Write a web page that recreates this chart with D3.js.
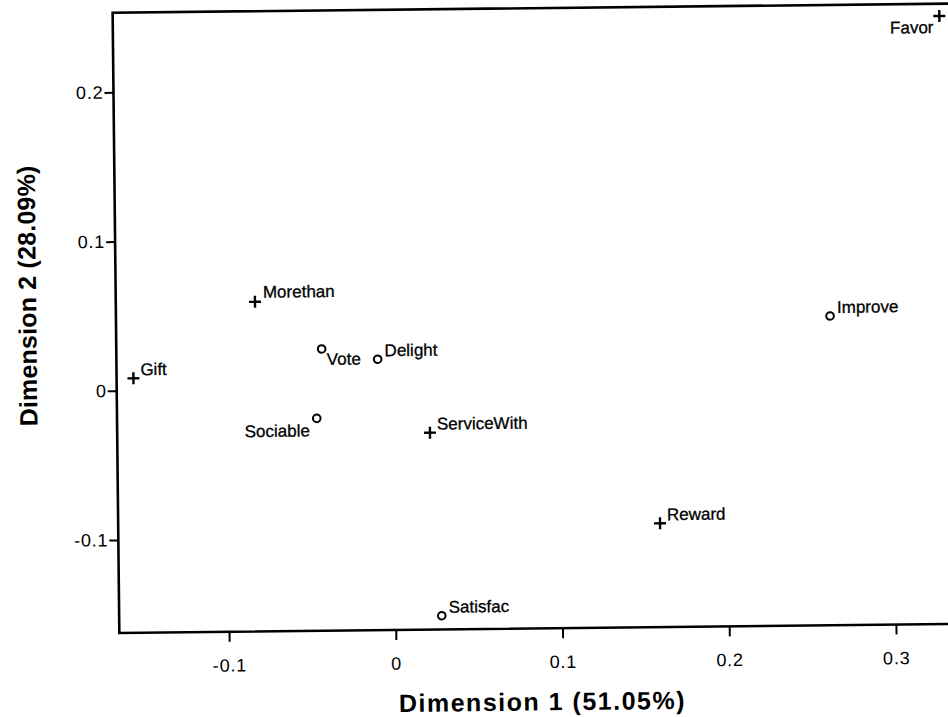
<!DOCTYPE html>
<html>
<head>
<meta charset="utf-8">
<script src="https://cdn.jsdelivr.net/npm/d3@7"></script>
<style>
  html, body { margin: 0; padding: 0; background: #fff; }
  svg { display: block; }
  text { font-family: "Liberation Sans", Arial, Helvetica, sans-serif; fill: #000; }
</style>
</head>
<body>
<svg id="chart" width="948" height="717"></svg>
<script>
(function () {
// ---- data ----
const names = ["Favor", "Improve", "Morethan", "Vote", "Delight", "Gift", "Sociable", "ServiceWith", "Reward", "Satisfac"];
const dim1  = [0.330, 0.2625, -0.0823, -0.0426, -0.0091, -0.1557, -0.0460, 0.0218, 0.1592, 0.0277];
const dim2  = [0.2452, 0.0449, 0.0586, 0.0265, 0.0192, 0.0082, -0.0200, -0.0304, -0.0928, -0.1532];
const pointType = ["plus", "circle", "plus", "circle", "circle", "plus", "circle", "plus", "plus", "circle"];
const xTicks = [-0.1, 0, 0.1, 0.2, 0.3];
const yTicks = [-0.1, 0, 0.1, 0.2];
const xTickLabels = ["-0.1", "0", "0.1", "0.2", "0.3"];
const yTickLabels = ["-0.1", "0", "0.1", "0.2"];
const xTitle = "Dimension 1 (51.05%)";
const yTitle = "Dimension 2 (28.09%)";

// label placement relative to marker (style, not data)
const labelPlace = {
  Favor:    {anchor: "end",   dx: -6, dy: 17},
  Vote:     {anchor: "start", dx: 5,  dy: 16},
  Sociable: {anchor: "end",   dx: -7, dy: 18},
  Morethan: {anchor: "start", dx: 8,  dy: -4}
};
const defaultPlace = {anchor: "start", dx: 7, dy: -3};

// ---- layout ----
const pLeft = 116.7, pRight = 955, pTop = 9.7, pBottom = 630;
const x = d3.scaleLinear().domain([-0.1658, 0.337]).range([pLeft, pRight]);
const y = d3.scaleLinear().domain([-0.1624, 0.2534]).range([pBottom, pTop]);

const svg = d3.select("#chart");
const g = svg.append("g")
  .attr("transform", `rotate(-0.62, ${x(0)}, ${y(0)})`);

// frame
g.append("path")
  .attr("d", `M${pRight},${pTop} L${pLeft},${pTop} L${pLeft},${pBottom} L${pRight},${pBottom}`)
  .attr("fill", "none").attr("stroke", "#000").attr("stroke-width", 2.6);

// axes
const xAxis = d3.axisBottom(x).tickValues(xTicks)
  .tickFormat((d, i) => xTickLabels[i]).tickSize(10).tickPadding(17);
const yAxis = d3.axisLeft(y).tickValues(yTicks)
  .tickFormat((d, i) => yTickLabels[i]).tickSize(9).tickPadding(1);

const gx = g.append("g").attr("transform", `translate(0,${pBottom})`).call(xAxis);
const gy = g.append("g").attr("transform", `translate(${pLeft},0)`).call(yAxis);
[gx, gy].forEach(a => {
  a.select(".domain").remove();
  a.selectAll(".tick line").attr("stroke", "#000").attr("stroke-width", 2);
  a.selectAll(".tick text")
    .style("font-family", '"Liberation Sans", Arial, sans-serif')
    .style("font-size", "18px")
    .style("letter-spacing", "0.8px")
    .attr("fill", "#000");
});

// axis titles
g.append("text")
  .attr("x", 539).attr("y", 712)
  .attr("text-anchor", "middle")
  .style("font-size", "25px").style("font-weight", "bold").style("letter-spacing", "1.5px")
  .text(xTitle);

g.append("text")
  .attr("transform", "translate(37,292) rotate(-90)")
  .attr("text-anchor", "middle")
  .style("font-size", "25px").style("font-weight", "bold").style("letter-spacing", "0.2px")
  .text(yTitle);

// points
const pts = names.map((n, i) => ({name: n, d1: dim1[i], d2: dim2[i], type: pointType[i]}));

const pg = g.append("g");
pg.selectAll("path.plus").data(pts.filter(p => p.type === "plus")).join("path")
  .attr("class", "plus")
  .attr("d", p => { const cx = x(p.d1), cy = y(p.d2), h = 6;
    return `M${cx - h},${cy} L${cx + h},${cy} M${cx},${cy - h} L${cx},${cy + h}`; })
  .attr("stroke", "#000").attr("stroke-width", 2.4).attr("fill", "none");

pg.selectAll("circle").data(pts.filter(p => p.type === "circle")).join("circle")
  .attr("cx", p => x(p.d1)).attr("cy", p => y(p.d2)).attr("r", 3.8)
  .attr("fill", "#fff").attr("stroke", "#000").attr("stroke-width", 2);

pg.selectAll("text.lbl").data(pts).join("text")
  .attr("class", "lbl")
  .attr("x", p => x(p.d1) + (labelPlace[p.name] || defaultPlace).dx)
  .attr("y", p => y(p.d2) + (labelPlace[p.name] || defaultPlace).dy)
  .attr("text-anchor", p => (labelPlace[p.name] || defaultPlace).anchor)
  .style("font-size", "17px")
  .style("stroke", "#000").style("stroke-width", "0.3px")
  .text(p => p.name);
})();
</script>
</body>
</html>
